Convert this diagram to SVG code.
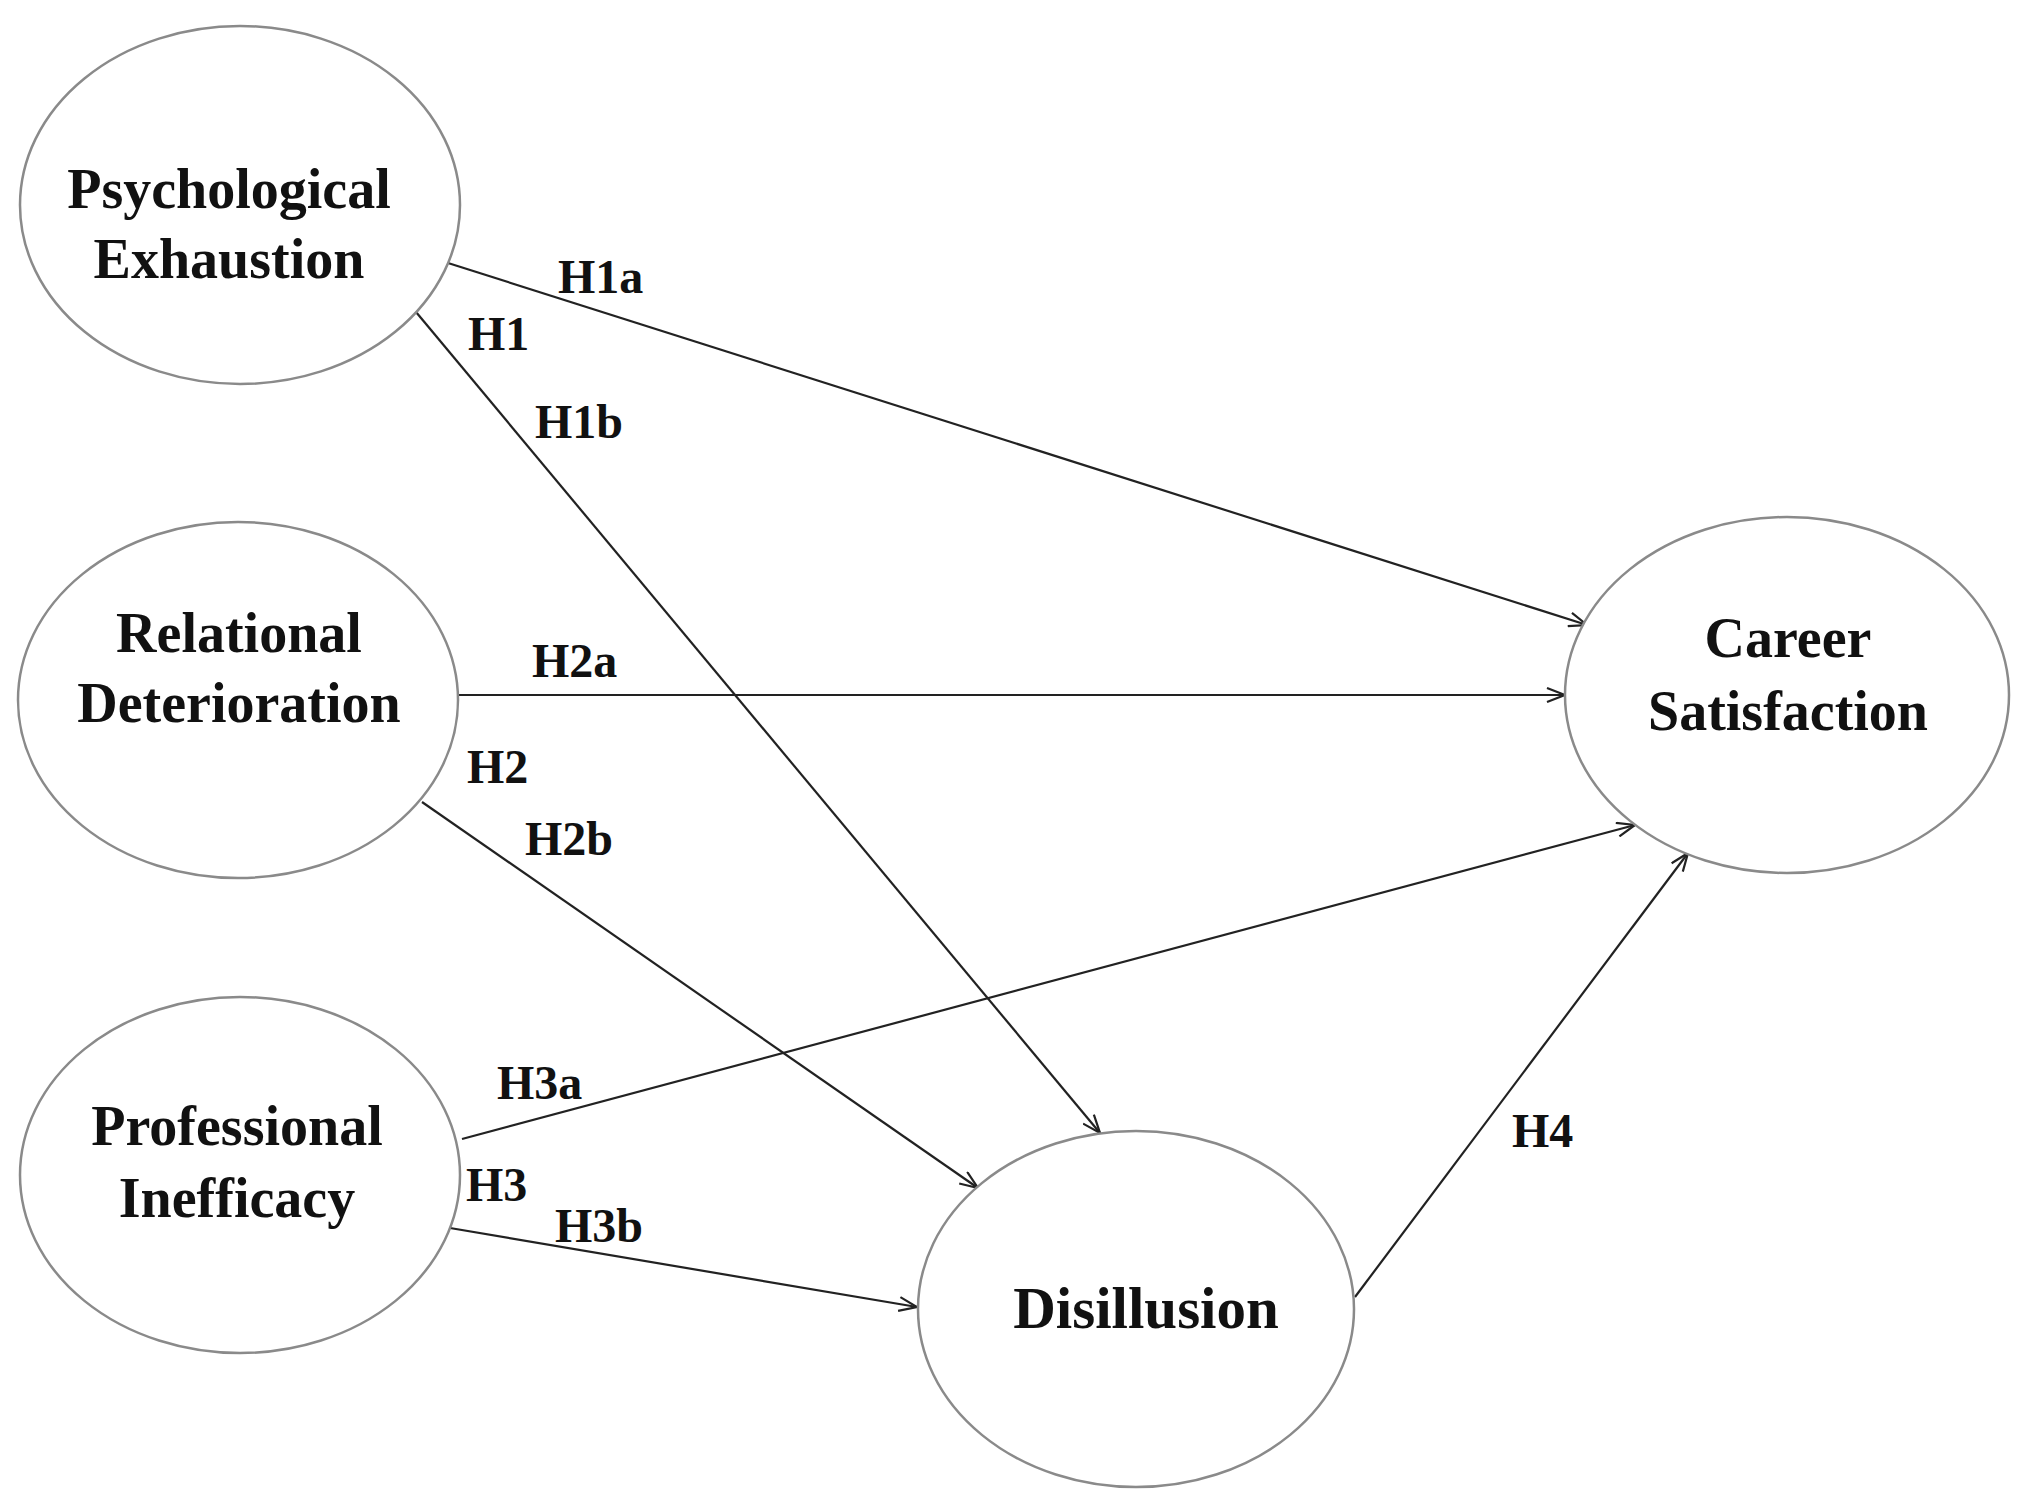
<svg xmlns="http://www.w3.org/2000/svg" width="2031" height="1505" viewBox="0 0 2031 1505">
<style>
.node ellipse{fill:#fff;stroke:#8a8a8a;stroke-width:2.5}
.node text{font-family:"Liberation Serif","Times New Roman",serif;font-weight:bold;font-size:56px;fill:#111;text-anchor:middle}
.edges line{stroke:#222;stroke-width:2.2;marker-end:url(#arr)}
.lbl{font-family:"Liberation Serif","Times New Roman",serif;font-weight:bold;font-size:48px;fill:#111}
</style>
<defs>
<marker id="arr" viewBox="0 0 20 16" refX="19" refY="8" markerWidth="20" markerHeight="16" markerUnits="userSpaceOnUse" orient="auto">
<path d="M1,1 L19,8 L1,15" fill="none" stroke="#222" stroke-width="2.2"/>
</marker>
</defs>
<rect width="2031" height="1505" fill="#fff"/>
<g class="edges">
<line id="e-h1a" x1="448" y1="263" x2="1587" y2="625"/>
<line id="e-h1b" x1="416" y1="312" x2="1100" y2="1133"/>
<line id="e-h2a" x1="457" y1="695" x2="1565" y2="695"/>
<line id="e-h2b" x1="422" y1="802" x2="978" y2="1188"/>
<line id="e-h3a" x1="462" y1="1139" x2="1635" y2="825"/>
<line id="e-h3b" x1="450" y1="1228" x2="917" y2="1307"/>
<line id="e-h4" x1="1355" y1="1297" x2="1688" y2="853"/>
</g>
<g id="n-psych" class="node">
<ellipse cx="240" cy="205" rx="220" ry="179"/>
<text x="229" y="208">Psychological</text>
<text x="229" y="278">Exhaustion</text>
</g>
<g id="n-relational" class="node">
<ellipse cx="238" cy="700" rx="220" ry="178"/>
<text x="239" y="652">Relational</text>
<text x="239" y="722">Deterioration</text>
</g>
<g id="n-professional" class="node">
<ellipse cx="240" cy="1175" rx="220" ry="178"/>
<text x="237" y="1145">Professional</text>
<text x="237" y="1217">Inefficacy</text>
</g>
<g id="n-career" class="node">
<ellipse cx="1787" cy="695" rx="222" ry="178"/>
<text x="1788" y="657">Career</text>
<text x="1788" y="730">Satisfaction</text>
</g>
<g id="n-disillusion" class="node">
<ellipse cx="1136" cy="1309" rx="218" ry="178"/>
<text x="1146" y="1328" style="font-size:59px">Disillusion</text>
</g>
<g id="labels">
<text class="lbl" x="558" y="293">H1a</text>
<text class="lbl" x="468" y="350">H1</text>
<text class="lbl" x="535" y="438">H1b</text>
<text class="lbl" x="532" y="677">H2a</text>
<text class="lbl" x="467" y="783">H2</text>
<text class="lbl" x="525" y="855">H2b</text>
<text class="lbl" x="497" y="1099">H3a</text>
<text class="lbl" x="466" y="1201">H3</text>
<text class="lbl" x="555" y="1242">H3b</text>
<text class="lbl" x="1512" y="1147">H4</text>
</g>
</svg>
